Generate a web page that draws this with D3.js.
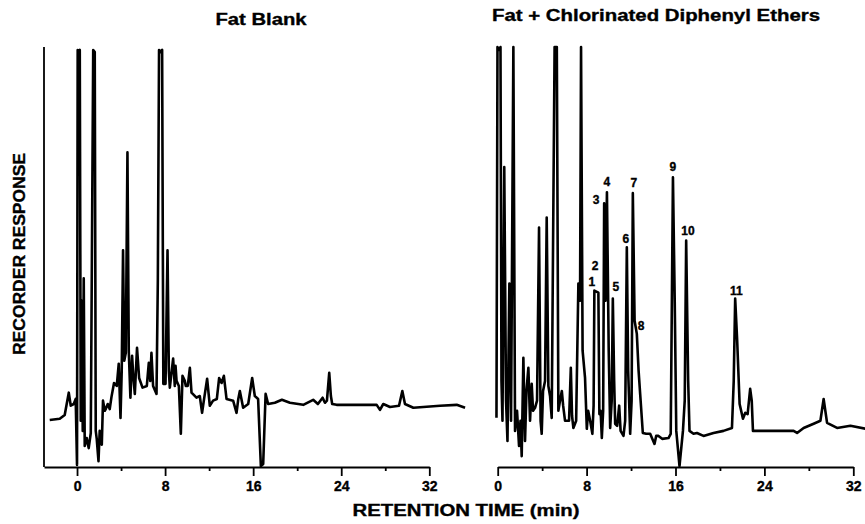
<!DOCTYPE html>
<html>
<head>
<meta charset="utf-8">
<script src="https://cdn.jsdelivr.net/npm/d3@7"></script>
<style>
  body { margin: 0; background: #fff; }
  svg { display: block; font-family: "Liberation Sans", Arial, sans-serif; font-weight: bold; }
  text { stroke: #000; stroke-width: 0.35px; }
</style>
</head>
<body>
<div class="container"></div>
<script>
'use strict';

// Panel titles and axis titles
const titles = ['Fat Blank', 'Fat + Chlorinated Diphenyl Ethers'];
const xTitle = 'RETENTION TIME (min)';
const yTitle = 'RECORDER RESPONSE';

// Tick values (min)
const majorTicks = [0, 8, 16, 24, 32];
const minorTicks = [4, 12, 20, 28];

// Fat blank trace: [retention time (min), recorder response (0-100)]
const blankTrace = [
  [-2.48, 11.2], [-1.57, 11.5], [-1.12, 12.4], [-0.75, 17.7], [-0.57, 14.6], [-0.30, 15.0],
  [-0.12, 16.2], [0.00, 0.5], [0.06, 99.3], [0.15, 98.8], [0.25, 99.3], [0.34, 11.0],
  [0.43, 39.6], [0.52, 8.6], [0.61, 44.9], [0.70, 5.0], [0.88, 6.9], [1.06, 4.5],
  [1.25, 8.1], [1.47, 99.3], [1.61, 98.8], [1.70, 8.6], [1.79, 6.7], [1.95, 1.4],
  [2.06, 8.6], [2.25, 5.3], [2.36, 15.8], [2.52, 13.4], [2.61, 13.8], [2.79, 15.0],
  [2.97, 13.8], [3.13, 16.7], [3.36, 20.0], [3.61, 19.3], [3.79, 24.6], [3.95, 11.7],
  [4.06, 22.9], [4.18, 51.6], [4.29, 25.3], [4.43, 27.2], [4.58, 74.9], [4.70, 27.7],
  [4.85, 16.5], [5.00, 26.5], [5.11, 21.7], [5.25, 17.4], [5.45, 28.4], [5.64, 21.2],
  [5.95, 18.9], [6.34, 19.3], [6.52, 24.8], [6.65, 20.5], [6.76, 27.2], [6.91, 19.3],
  [7.22, 17.4], [7.34, 44.4], [7.45, 99.3], [7.61, 98.8], [7.73, 99.3], [7.84, 19.8],
  [8.04, 19.8], [8.22, 51.6], [8.34, 22.9], [8.43, 18.9], [8.73, 25.8], [8.88, 19.3],
  [8.95, 24.1], [9.04, 20.5], [9.25, 19.3], [9.43, 7.9], [9.58, 21.7], [9.79, 20.5],
  [9.88, 19.3], [10.06, 19.3], [10.25, 23.6], [10.40, 17.7], [10.85, 16.5], [11.15, 16.9],
  [11.36, 12.9], [11.52, 15.8], [11.82, 21.0], [12.06, 14.6], [12.36, 15.8], [12.70, 16.2],
  [12.91, 21.2], [13.13, 20.0], [13.34, 21.7], [13.58, 16.2], [14.18, 15.8], [14.49, 12.9],
  [14.65, 16.2], [14.79, 18.1], [15.09, 14.1], [15.55, 15.0], [15.91, 21.2], [16.15, 16.9],
  [16.45, 16.2], [16.70, 0.2], [16.91, 0.7], [17.13, 17.4], [17.36, 15.0], [17.97, 15.3],
  [18.61, 16.0], [19.34, 15.3], [20.55, 14.8], [21.45, 16.0], [21.88, 15.0], [22.31, 16.5],
  [22.52, 15.3], [22.70, 15.8], [22.91, 22.4], [23.06, 16.9], [23.18, 15.0], [23.58, 14.8],
  [27.22, 14.8], [27.52, 13.6], [27.82, 15.0], [28.43, 14.3], [29.25, 14.6], [29.55, 18.1],
  [29.79, 15.0], [30.55, 14.1], [32.97, 14.6], [34.49, 14.8], [35.25, 14.1]
];

// Fat + chlorinated diphenyl ethers trace
const spikedTrace = [
  [-0.11, 11.7], [-0.02, 100], [0.12, 99.3], [0.25, 100], [0.34, 20.5], [0.43, 11.0],
  [0.59, 71.4], [0.75, 15.8], [0.88, 6.2], [1.05, 43.7], [1.20, 11.0], [1.41, 100],
  [1.56, 8.6], [1.74, 13.4], [1.92, 5.0], [2.05, 11.0], [2.16, 2.6], [2.31, 26.0],
  [2.46, 6.2], [2.59, 18.1], [2.76, 23.6], [2.91, 11.0], [3.06, 19.8], [3.18, 13.4],
  [3.36, 14.1], [3.54, 15.8], [3.72, 57.0], [3.86, 11.0], [3.96, 7.9], [4.08, 18.1],
  [4.26, 20.5], [4.41, 59.4], [4.56, 19.3], [4.71, 16.9], [4.86, 11.7], [4.98, 52.3],
  [5.12, 100], [5.32, 100], [5.46, 13.4], [5.61, 15.8], [5.77, 18.1], [5.89, 14.6],
  [6.06, 11.0], [6.42, 11.0], [6.58, 23.6], [6.69, 12.2], [6.81, 9.3], [7.06, 11.0],
  [7.26, 43.7], [7.41, 39.6], [7.50, 100], [7.64, 27.7], [7.86, 21.2], [8.02, 9.1],
  [8.14, 13.4], [8.32, 11.0], [8.52, 7.9], [8.63, 14.6], [8.70, 42.0], [9.06, 41.5],
  [9.15, 12.6], [9.26, 13.4], [9.37, 6.9], [9.49, 13.4], [9.58, 62.8], [9.70, 39.6],
  [9.83, 65.4], [9.99, 27.7], [10.12, 9.3], [10.26, 15.8], [10.36, 40.1], [10.48, 20.5],
  [10.57, 10.3], [10.75, 9.8], [10.93, 14.6], [11.06, 8.6], [11.32, 7.4], [11.47, 11.0],
  [11.62, 52.3], [11.74, 22.9], [11.92, 7.9], [12.05, 15.8], [12.16, 65.2], [12.32, 34.8],
  [12.52, 31.7], [12.68, 22.9], [12.82, 17.4], [13.06, 8.1], [13.36, 7.9], [13.72, 7.9],
  [14.11, 5.5], [14.26, 7.4], [14.47, 7.4], [14.80, 6.7], [15.37, 6.9], [15.57, 7.9],
  [15.77, 69.0], [15.93, 39.6], [16.07, 8.6], [16.36, 0.2], [16.67, 8.6], [16.83, 15.8],
  [16.96, 53.9], [17.14, 20.5], [17.26, 8.6], [17.62, 7.9], [17.93, 8.1], [18.52, 7.4],
  [19.42, 8.1], [20.32, 8.6], [21.08, 9.3], [21.24, 20.5], [21.37, 40.1], [21.55, 30.1],
  [21.77, 15.0], [22.07, 11.5], [22.28, 12.9], [22.49, 12.6], [22.72, 18.6], [22.86, 15.8],
  [22.97, 8.6], [23.63, 8.6], [26.63, 8.6], [26.94, 8.1], [27.53, 9.3], [28.43, 10.3],
  [29.04, 11.0], [29.33, 16.2], [29.64, 10.5], [30.54, 9.3], [31.74, 9.8], [33.09, 9.1]
];

// Peak numbers: [label, retention time, response where the number sits]
const peakLabels = [
  ['1', 8.47, 44.0], ['2', 8.77, 48.0], ['3', 8.86, 63.6], ['4', 9.82, 67.8],
  ['5', 10.63, 42.8], ['6', 11.53, 54.3], ['7', 12.25, 67.6], ['8', 12.91, 33.7],
  ['9', 15.77, 71.4], ['10', 17.12, 56.3], ['11', 21.47, 41.9]
];

const width = 865, height = 524;

const svg = d3.select('.container').append('svg')
  .attr('width', width)
  .attr('height', height);

const y = d3.scaleLinear().domain([0, 100]).range([467, 47]);
const xLeft = d3.scaleLinear().domain([-3, 32]).range([44, 429.3]);
const xRight = d3.scaleLinear().domain([0, 32]).range([497.7, 853.3]);

function drawAxis(x) {
  const g = svg.append('g').attr('transform', 'translate(0,' + y(0) + ')');
  g.call(d3.axisBottom(x).tickValues(majorTicks).tickSize(9).tickSizeOuter(0)
    .tickPadding(5).tickFormat(d3.format('d')));
  g.append('g').call(d3.axisBottom(x).tickValues(minorTicks).tickSize(4).tickFormat(''))
    .select('.domain').remove();
  g.selectAll('path, line').attr('stroke', '#000').attr('stroke-width', 1.8);
  g.selectAll('text').attr('fill', '#000').style('font-size', '14px')
    .style('font-weight', 'bold').style('font-family', '"Liberation Sans", Arial, sans-serif');
}

function drawTrace(x, data) {
  const line = d3.line().x(d => x(d[0])).y(d => y(d[1]));
  svg.append('path')
    .datum(data)
    .attr('d', line)
    .attr('fill', 'none')
    .attr('stroke', '#000')
    .attr('stroke-width', 2.6)
    .attr('stroke-linejoin', 'round');
}

drawAxis(xLeft);
drawAxis(xRight);

// Left vertical response axis
svg.append('line')
  .attr('x1', xLeft(-3)).attr('x2', xLeft(-3))
  .attr('y1', y(100)).attr('y2', y(0))
  .attr('stroke', '#000').attr('stroke-width', 1.8);

drawTrace(xLeft, blankTrace);
drawTrace(xRight, spikedTrace);

svg.selectAll('.peak-label')
  .data(peakLabels)
  .enter().append('text')
  .attr('class', 'peak-label')
  .attr('x', d => xRight(d[1]))
  .attr('y', d => y(d[2]))
  .attr('dy', '0.35em')
  .attr('text-anchor', 'middle')
  .style('font-size', '12px')
  .text(d => d[0]);

svg.append('text')
  .attr('x', 261).attr('y', 25)
  .attr('text-anchor', 'middle')
  .attr('textLength', 91).attr('lengthAdjust', 'spacingAndGlyphs')
  .style('font-size', '16px')
  .text(titles[0]);

svg.append('text')
  .attr('x', 656).attr('y', 21)
  .attr('text-anchor', 'middle')
  .attr('textLength', 328).attr('lengthAdjust', 'spacingAndGlyphs')
  .style('font-size', '16px')
  .text(titles[1]);

svg.append('text')
  .attr('x', 466).attr('y', 516)
  .attr('text-anchor', 'middle')
  .attr('textLength', 227).attr('lengthAdjust', 'spacingAndGlyphs')
  .style('font-size', '16px')
  .text(xTitle);

svg.append('text')
  .attr('transform', 'translate(25,254) rotate(-90)')
  .attr('text-anchor', 'middle')
  .attr('textLength', 202).attr('lengthAdjust', 'spacingAndGlyphs')
  .style('font-size', '16px')
  .text(yTitle);
</script>
</body>
</html>
